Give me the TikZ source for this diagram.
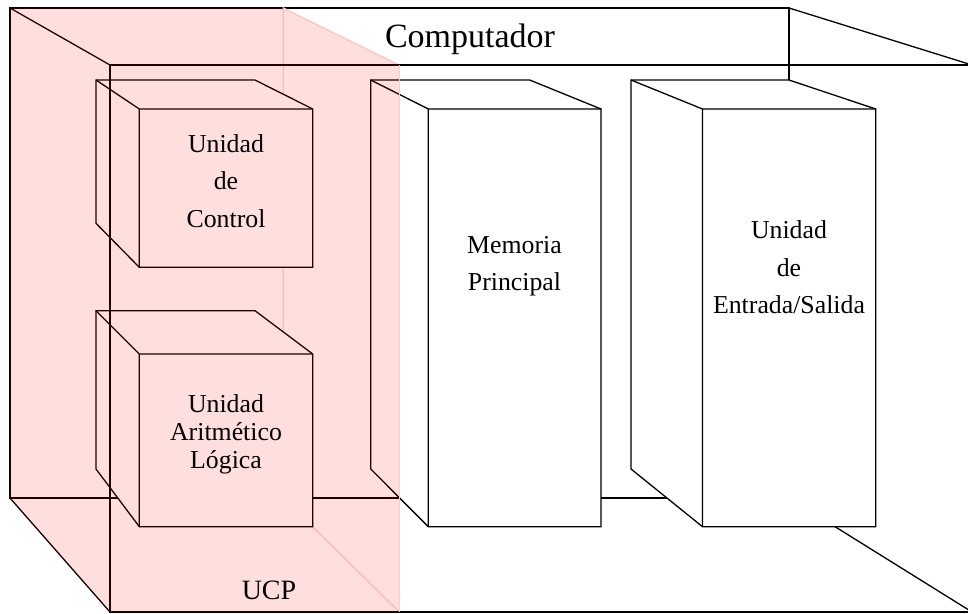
\documentclass[tikz,border=0pt]{standalone}
\usepackage{fontspec}
\setmainfont{Liberation Serif}
\usepackage{xcolor}
\usepackage{tikz}
\definecolor{ucpline}{HTML}{FFD6D6}
\tikzset{
  linea/.style={draw=black, line width=1.3pt, line join=miter},
  caja/.style={linea, fill=white},
  ucpborde/.style={draw=ucpline, line width=1.3pt},
  ucptinte/.style={fill=red, fill opacity=0.13},
  lab/.style={font=\fontsize{25.8}{37.5}\selectfont, align=center, inner sep=0pt, anchor=north},
  labalu/.style={lab, font=\fontsize{25.8}{28.3}\selectfont},
  titulo/.style={font=\fontsize{34}{40}\selectfont, inner sep=0pt, anchor=base},
  labucp/.style={font=\fontsize{28}{32}\selectfont, inner sep=0pt, anchor=base}
}

\begin{document}
\begin{tikzpicture}[x=1pt, y=-1pt]
  \useasboundingbox (0,0) rectangle (968,613);
  \clip (0,0) rectangle (968,613);

  % computador: cara trasera y aristas
  \coordinate (cb1) at (10,8);
  \coordinate (cb2) at (789,8);
  \coordinate (cb3) at (789,498);
  \coordinate (cb4) at (10,498);
  \coordinate (cf1) at (110,65);
  \coordinate (cf2) at (972,65);
  \coordinate (cf3) at (972,612);
  \coordinate (cf4) at (110,612);
  \draw[linea] (cb1) -- (cb2) -- (cb3) -- (cb4) -- cycle;
  \draw[linea] (cb1) -- (cf1) (cb2) -- (cf2) (cb3) -- (cf3) (cb4) -- (cf4);

  % UCP: aristas ocultas
  \coordinate (u2) at (283.3,8);
  \coordinate (u3) at (283.3,498);
  \coordinate (u6) at (399.3,65);
  \coordinate (u7) at (399.3,612);
  \draw[ucpborde] (u3) -- (u2) -- (u6);
  \draw[ucpborde] (u3) -- (u7);

  % unidad de control
  \coordinate (ca) at (96,80);
  \coordinate (cb) at (255,80);
  \coordinate (cc) at (96,223.3);
  \coordinate (cd) at (139.3,109);
  \coordinate (ce) at (312.7,109);
  \coordinate (cf) at (312.7,267.3);
  \coordinate (cg) at (139.3,267.3);
  \draw[caja] (cc) -- (ca) -- (cb) -- (ce) -- (cf) -- (cg) -- cycle;
  \draw[linea] (ca) -- (cd) -- (ce) (cd) -- (cg);

  % unidad aritmetico logica
  \coordinate (aa) at (96,310.7);
  \coordinate (ab) at (255,310.7);
  \coordinate (ac) at (96,469);
  \coordinate (ad) at (139.3,354);
  \coordinate (ae) at (312.7,354);
  \coordinate (af) at (312.7,526.7);
  \coordinate (ag) at (139.3,526.7);
  \draw[caja] (ac) -- (aa) -- (ab) -- (ae) -- (af) -- (ag) -- cycle;
  \draw[linea] (aa) -- (ad) -- (ae) (ad) -- (ag);

  % memoria principal
  \coordinate (ma) at (370.7,80);
  \coordinate (mb) at (529.7,80);
  \coordinate (mc) at (370.7,469);
  \coordinate (md) at (428.3,109);
  \coordinate (me) at (601,109);
  \coordinate (mf) at (601,526.7);
  \coordinate (mg) at (428.3,526.7);
  \draw[caja] (mc) -- (ma) -- (mb) -- (me) -- (mf) -- (mg) -- cycle;
  \draw[linea] (ma) -- (md) -- (me) (md) -- (mg);

  % unidad de entrada/salida
  \coordinate (ea) at (631,80);
  \coordinate (eb) at (789,80);
  \coordinate (ec) at (631,469);
  \coordinate (ed) at (702.5,109);
  \coordinate (ee) at (875.7,109);
  \coordinate (ef) at (875.7,526.7);
  \coordinate (eg) at (702.5,526.7);
  \draw[caja] (ec) -- (ea) -- (eb) -- (ee) -- (ef) -- (eg) -- cycle;
  \draw[linea] (ea) -- (ed) -- (ee) (ed) -- (eg);

  % cara frontal del computador y UCP translucida
  \draw[linea] (cf1) -- (cf2) -- (cf3) -- (cf4) -- cycle;
  \draw[ucpborde] (u6) -- (u7);
  \fill[ucptinte] (cb1) -- (u2) -- (u6) -- (u7) -- (cf4) -- (cb4) -- cycle;

  \node[titulo] (comp) at (470,47) {Computador};
  \node[labucp] (ucp) at (269,599) {UCP};
  \node[lab] (uc) at (226,134.1) {Unidad\\de\\Control};
  \node[labalu] (alu) at (226,394.1) {Unidad\\Aritmético\\Lógica};
  \node[lab] (mem) at (514.5,236.2) {Memoria\\Principal};
  \node[lab] (es) at (789,220.7) {Unidad\\de\\Entrada/Salida};
\end{tikzpicture}
\end{document}
